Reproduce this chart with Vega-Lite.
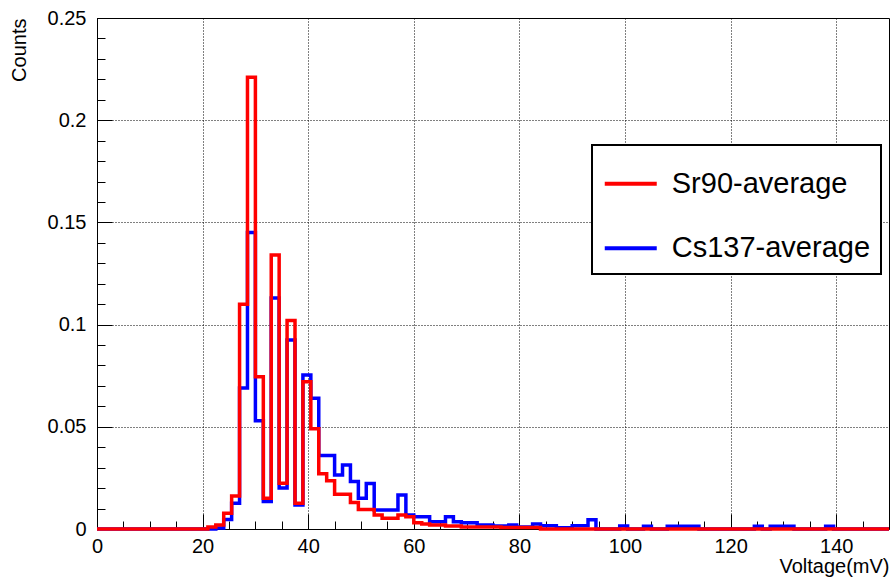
{
 "$schema": "https://vega.github.io/schema/vega-lite/v6.json",
 "width": 792,
 "height": 511,
 "autosize": {"type": "none"},
 "padding": {"left": 97, "top": 18, "right": 2, "bottom": 48},
 "background": "white",
 "config": {
  "font": "Liberation Sans",
  "view": {"stroke": "black", "strokeWidth": 1},
  "axis": {"domain": false, "labelFont": "Liberation Sans", "titleFont": "Liberation Sans", "labelColor": "black", "titleColor": "black", "tickColor": "black", "titleFontWeight": "normal"}
 },
 "datasets": {
  "cs": [
   {"v":0,"c":0},{"v":1.5,"c":0},{"v":3,"c":0},{"v":4.5,"c":0},{"v":6,"c":0},{"v":7.5,"c":0},{"v":9,"c":0},{"v":10.5,"c":0},{"v":12,"c":0},{"v":13.5,"c":0},
   {"v":15,"c":0},{"v":16.5,"c":0},{"v":18,"c":0},{"v":19.5,"c":0},{"v":21,"c":0},{"v":22.5,"c":0.0005},{"v":24,"c":0.0047},{"v":25.5,"c":0.0126},{"v":27,"c":0.069},{"v":28.5,"c":0.145},
   {"v":30,"c":0.053},{"v":31.5,"c":0.0134},{"v":33,"c":0.113},{"v":34.5,"c":0.020},{"v":36,"c":0.0925},{"v":37.5,"c":0.0117},{"v":39,"c":0.0753},{"v":40.5,"c":0.064},{"v":42,"c":0.036},{"v":43.5,"c":0.036},
   {"v":45,"c":0.0264},{"v":46.5,"c":0.0313},{"v":48,"c":0.0232},{"v":49.5,"c":0.015},{"v":51,"c":0.0223},{"v":52.5,"c":0.0093},{"v":54,"c":0.0093},{"v":55.5,"c":0.0093},{"v":57,"c":0.0166},{"v":58.5,"c":0.0068},
   {"v":60,"c":0.006},{"v":61.5,"c":0.006},{"v":63,"c":0.0035},{"v":64.5,"c":0.0035},{"v":66,"c":0.006},{"v":67.5,"c":0.0035},{"v":69,"c":0.003},{"v":70.5,"c":0.003},{"v":72,"c":0.002},{"v":73.5,"c":0.002},
   {"v":75,"c":0.0015},{"v":76.5,"c":0.0015},{"v":78,"c":0.002},{"v":79.5,"c":0.001},{"v":81,"c":0.001},{"v":82.5,"c":0.0024},{"v":84,"c":0.0016},{"v":85.5,"c":0.0016},{"v":87,"c":0.0006},{"v":88.5,"c":0.0006},
   {"v":90,"c":0.0016},{"v":91.5,"c":0.0016},{"v":93,"c":0.0045},{"v":94.5,"c":0},{"v":96,"c":0},{"v":97.5,"c":0},{"v":99,"c":0.0015},{"v":100.5,"c":0},{"v":102,"c":0},{"v":103.5,"c":0.0013},
   {"v":105,"c":0},{"v":106.5,"c":0},{"v":108,"c":0.0013},{"v":109.5,"c":0.0013},{"v":111,"c":0.0013},{"v":112.5,"c":0.0013},{"v":114,"c":0},{"v":115.5,"c":0},{"v":117,"c":0},{"v":118.5,"c":0},
   {"v":120,"c":0},{"v":121.5,"c":0},{"v":123,"c":0},{"v":124.5,"c":0.0013},{"v":126,"c":0},{"v":127.5,"c":0.0013},{"v":129,"c":0.0013},{"v":130.5,"c":0.0013},{"v":132,"c":0},{"v":133.5,"c":0},
   {"v":135,"c":0},{"v":136.5,"c":0},{"v":138,"c":0.0013},{"v":139.5,"c":0},{"v":141,"c":0},{"v":142.5,"c":0},{"v":144,"c":0},{"v":145.5,"c":0},{"v":147,"c":0},{"v":148.5,"c":0},
   {"v":150,"c":0}
  ],
  "sr": [
   {"v":0,"c":0},{"v":1.5,"c":0},{"v":3,"c":0},{"v":4.5,"c":0},{"v":6,"c":0},{"v":7.5,"c":0},{"v":9,"c":0},{"v":10.5,"c":0},{"v":12,"c":0},{"v":13.5,"c":0},
   {"v":15,"c":0},{"v":16.5,"c":0},{"v":18,"c":0},{"v":19.5,"c":0},{"v":21,"c":0.001},{"v":22.5,"c":0.002},{"v":24,"c":0.0077},{"v":25.5,"c":0.0161},{"v":27,"c":0.110},{"v":28.5,"c":0.221},
   {"v":30,"c":0.0745},{"v":31.5,"c":0.015},{"v":33,"c":0.134},{"v":34.5,"c":0.0224},{"v":36,"c":0.102},{"v":37.5,"c":0.0126},{"v":39,"c":0.072},{"v":40.5,"c":0.049},{"v":42,"c":0.027},{"v":43.5,"c":0.0236},
   {"v":45,"c":0.017},{"v":46.5,"c":0.017},{"v":48,"c":0.013},{"v":49.5,"c":0.0095},{"v":51,"c":0.0095},{"v":52.5,"c":0.0068},{"v":54,"c":0.0052},{"v":55.5,"c":0.0052},{"v":57,"c":0.0068},{"v":58.5,"c":0.006},
   {"v":60,"c":0.003},{"v":61.5,"c":0.0025},{"v":63,"c":0.002},{"v":64.5,"c":0.002},{"v":66,"c":0.0015},{"v":67.5,"c":0.0015},{"v":69,"c":0.001},{"v":70.5,"c":0.001},{"v":72,"c":0.001},{"v":73.5,"c":0.001},
   {"v":75,"c":0.001},{"v":76.5,"c":0.0007},{"v":78,"c":0.0007},{"v":79.5,"c":0.0007},{"v":81,"c":0.0007},{"v":82.5,"c":0.0007},{"v":84,"c":0},{"v":85.5,"c":0},{"v":87,"c":0},{"v":88.5,"c":0},
   {"v":90,"c":0},{"v":91.5,"c":0},{"v":93,"c":0},{"v":94.5,"c":0},{"v":96,"c":0},{"v":97.5,"c":0},{"v":99,"c":0},{"v":100.5,"c":0},{"v":102,"c":0},{"v":103.5,"c":0},
   {"v":105,"c":0},{"v":106.5,"c":0},{"v":108,"c":0},{"v":109.5,"c":0},{"v":111,"c":0},{"v":112.5,"c":0},{"v":114,"c":0},{"v":115.5,"c":0},{"v":117,"c":0},{"v":118.5,"c":0},
   {"v":120,"c":0},{"v":121.5,"c":0},{"v":123,"c":0},{"v":124.5,"c":0},{"v":126,"c":0},{"v":127.5,"c":0},{"v":129,"c":0},{"v":130.5,"c":0},{"v":132,"c":0},{"v":133.5,"c":0},
   {"v":135,"c":0},{"v":136.5,"c":0},{"v":138,"c":0},{"v":139.5,"c":0},{"v":141,"c":0},{"v":142.5,"c":0},{"v":144,"c":0},{"v":145.5,"c":0},{"v":147,"c":0},{"v":148.5,"c":0},
   {"v":150,"c":0}
  ]
 },
 "layer": [
  {
   "data": {"name": "cs"},
   "transform": [{"calculate": "'Cs137-average'", "as": "s"}],
   "mark": {"type": "line", "interpolate": "step-after", "strokeWidth": 3.5},
   "encoding": {
    "x": {"field": "v", "type": "quantitative", "scale": {"domain": [0, 150], "nice": false, "zero": false},
     "axis": {"orient": "bottom", "values": [0,20,40,60,80,100,120,140], "grid": true, "gridDash": [1,2], "gridColor": "black", "gridWidth": 1, "gridOpacity": 1, "tickSize": -15, "tickWidth": 1, "labelPadding": 22, "labelFontSize": 20, "labelFlush": false, "labelOverlap": false, "title": "Voltage(mV)", "titleFontSize": 20, "titleAnchor": "end", "titlePadding": 0}},
    "y": {"field": "c", "type": "quantitative", "scale": {"domain": [0, 0.25], "nice": false},
     "axis": {"orient": "left", "values": [0,0.05,0.1,0.15,0.2,0.25], "format": "~g", "grid": true, "gridDash": [1,2], "gridColor": "black", "gridWidth": 1, "gridOpacity": 1, "tickSize": -15, "tickWidth": 1, "labelPadding": 26, "labelFontSize": 20, "labelFlush": false, "labelOverlap": false, "title": "Counts", "titleFontSize": 20, "titleAnchor": "end", "titlePadding": 18}},
    "color": {"field": "s", "type": "nominal",
     "scale": {"domain": ["Sr90-average", "Cs137-average"], "range": ["#ff0000", "#0000ff"]},
     "legend": {"title": null, "orient": "none", "legendX": 495, "legendY": 127, "symbolType": "stroke", "symbolSize": 2704, "symbolStrokeWidth": 4, "labelFontSize": 29, "labelFont": "Liberation Sans", "labelColor": "black", "labelOffset": 13, "padding": 10.75, "rowPadding": 21.5, "strokeColor": "black", "fillColor": "white", "labelLimit": 500,
      "encode": {"legend": {"update": {"strokeWidth": {"value": 2}}}}}}
   }
  },
  {
   "data": {"name": "sr"},
   "transform": [{"calculate": "'Sr90-average'", "as": "s"}],
   "mark": {"type": "line", "interpolate": "step-after", "strokeWidth": 3.5},
   "encoding": {
    "x": {"field": "v", "type": "quantitative", "scale": {"domain": [0, 150], "nice": false, "zero": false},
     "axis": {"orient": "bottom", "values": [0,5,10,15,20,25,30,35,40,45,50,55,60,65,70,75,80,85,90,95,100,105,110,115,120,125,130,135,140,145,150], "grid": false, "labels": false, "tickSize": -8, "tickWidth": 1, "title": null}},
    "y": {"field": "c", "type": "quantitative", "scale": {"domain": [0, 0.25], "nice": false},
     "axis": {"orient": "left", "values": [0,0.01,0.02,0.03,0.04,0.05,0.06,0.07,0.08,0.09,0.1,0.11,0.12,0.13,0.14,0.15,0.16,0.17,0.18,0.19,0.2,0.21,0.22,0.23,0.24,0.25], "grid": false, "labels": false, "tickSize": -8, "tickWidth": 1, "title": null}},
    "color": {"field": "s", "type": "nominal", "scale": {"domain": ["Sr90-average", "Cs137-average"], "range": ["#ff0000", "#0000ff"]}}
   }
  }
 ],
 "resolve": {"axis": {"x": "independent", "y": "independent"}}
}
